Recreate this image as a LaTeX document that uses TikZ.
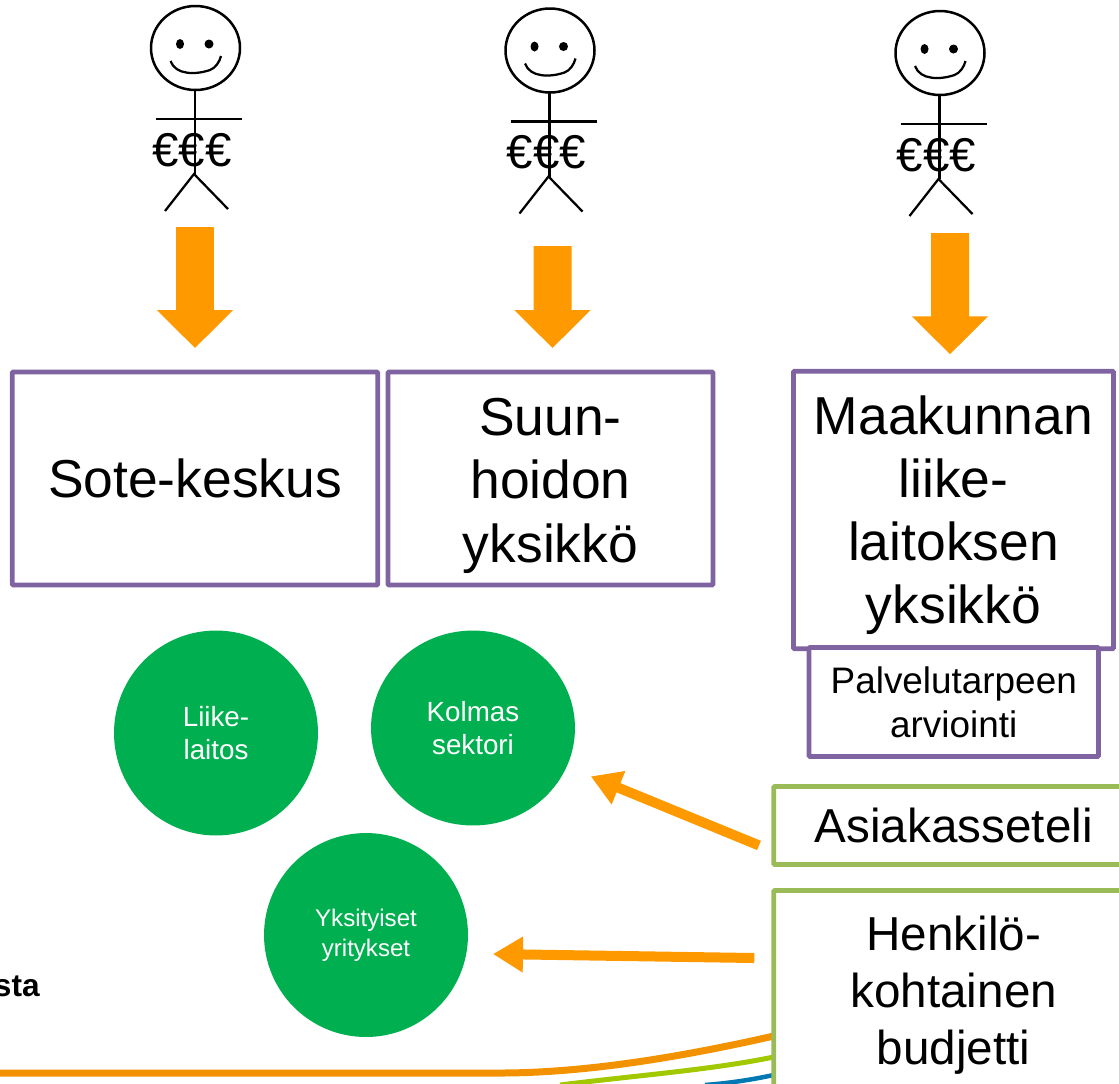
\documentclass[tikz,border=0pt]{standalone}
\usepackage{fontspec}
\setmainfont{Liberation Sans}
\usetikzlibrary{arrows.meta, shapes.geometric, backgrounds}

\definecolor{unitpurple}{HTML}{8064A2}
\definecolor{voucherlime}{HTML}{9BBB59}
\definecolor{providergreen}{HTML}{00B050}
\definecolor{arroworange}{HTML}{FF9900}
\definecolor{floworange}{HTML}{F39200}
\definecolor{flowlime}{HTML}{A2C800}
\definecolor{flowblue}{HTML}{0078B4}

\newcommand{\bigfont}{\fontsize{30.4}{36}\selectfont}
\newcommand{\midfont}{\fontsize{27.1}{32.6}\selectfont}

\tikzset{
    unitbox/.style={draw=unitpurple, line width=0.095cm, fill=white, rounded corners=0.5pt,
        inner sep=0pt, outer sep=0pt, align=center},
    voucherbox/.style={draw=voucherlime, line width=0.095cm, fill=white, rounded corners=0.5pt,
        inner sep=0pt, outer sep=0pt, align=center, font=\midfont},
    provider/.style={ellipse, fill=providergreen, text=white, inner sep=0pt, outer sep=0pt, align=center},
    bigarrow/.style={arroworange, line width=0.76cm, -{Triangle[length=0.76cm, width=1.48cm]}},
    thinarrow/.style={arroworange, line width=0.2cm, -{Triangle[length=0.6cm, width=0.68cm]}},
    stickman/.pic={
        \draw[line width=0.05cm] (0,0) ellipse [x radius=44.5, y radius=42];
        \fill (-15.5,-4) ellipse [x radius=4, y radius=5];
        \fill (13.5,-4) ellipse [x radius=4.5, y radius=4.5];
        \draw[line width=0.045cm] (-25,13) .. controls (-20,27) and (0,27) .. (14.5,22)
            .. controls (20,20) and (24,14) .. (25.5,8);
        \draw[line width=0.055cm] (-0.5,42) -- (-0.5,126);
        \draw[line width=0.045cm] (-39.5,71) -- (46.5,71);
        \draw[line width=0.045cm] (-30.5,163) -- (-1.5,126) -- (32.5,161);
        \node[inner sep=0pt, font=\fontsize{27}{27}\selectfont] (-euro) at (-3.5,102) {€€€};
    }
}

\begin{document}
\begin{tikzpicture}[x=0.02cm, y=-0.02cm]
    \useasboundingbox (0,0) rectangle (1119,1083);
    \clip (0,0) rectangle (1119,1083);

    % Stick figures
    \pic (man1) at (195.5,48) {stickman};
    \pic (man2) at (550,50.5) {stickman};
    \pic (man3) at (940,53) {stickman};

    % Units
    \node[unitbox, minimum width=7.31cm, minimum height=4.26cm, font=\bigfont] (sote) at (195,478.5) {Sote-keskus};
    \node[unitbox, minimum width=6.5cm, minimum height=4.26cm, font=\bigfont] (suun) at (550.5,478.5) {\rule{0pt}{29.5pt}Suun-\\hoidon\\yksikkö};
    \node[unitbox, minimum width=6.4cm, minimum height=5.55cm, font=\bigfont] (maakunta) at (953.5,510)
        {\rule{0pt}{28pt}Maakunnan\\liike-\\laitoksen\\yksikkö};
    \node[unitbox, minimum width=5.79cm, minimum height=2.18cm, font=\fontsize{21}{25.2}\selectfont] (arvio) at (953.75,702) {Palvelutarpeen\\arviointi};

    % Vouchers
    \node[voucherbox, minimum width=7.2cm, minimum height=1.56cm] (seteli) at (953.75,825.5) {Asiakasseteli};
    \node[voucherbox, minimum width=7.2cm, minimum height=4.18cm] (budjetti) at (953.75,995) {Henkilö-\\kohtainen\\budjetti};

    % Providers
    \node[provider, minimum width=4.08cm, minimum height=4.1cm, font=\fontsize{15.8}{19}\selectfont] (laitos) at (216,733) {Liike-\\laitos};
    \node[provider, minimum width=4.08cm, minimum height=3.9cm, font=\fontsize{15.8}{19}\selectfont] (kolmas) at (473,728) {Kolmas\\sektori};
    \node[provider, minimum width=4.08cm, minimum height=4.08cm, font=\fontsize{13.7}{17}\selectfont] (yritys) at (366,935) {Yksityiset\\yritykset};

    % Arrows down to the units
    \coordinate (top1) at (195,227);
    \coordinate (top2) at (552.5,246);
    \coordinate (top3) at (950,233);
    \draw[bigarrow] (top1) -- ([yshift=0.48cm]sote.north);
    \draw[bigarrow] (top2) -- ([xshift=0.04cm, yshift=0.48cm]suun.north);
    \draw[bigarrow] (top3) -- ([xshift=-0.07cm, yshift=0.34cm]maakunta.north);

    % Arrows from the vouchers
    \draw[thinarrow, shorten <=0.32cm, shorten >=0.52cm] ([yshift=0.26cm]seteli.south west) -- (kolmas);
    \draw[thinarrow] ([xshift=-0.39cm, yshift=0.74cm]budjetti.west) -- ([xshift=0.5cm, yshift=-0.38cm]yritys.east);

    \node[anchor=base east, inner sep=0pt, font=\fontsize{18}{20}\selectfont\bfseries] (sta) at (40,996) {sta};

    % Flow lines
    \coordinate (flow1) at (0,1073);
    \coordinate (flow2) at (560,1085);
    \coordinate (flow3) at (705,1085);
    \begin{scope}[on background layer]
        \draw[floworange, line width=0.14cm] (flow1) -- (500,1073) .. controls (590,1073) and (690,1055) .. ([yshift=-0.82cm]budjetti.west);
        \draw[flowlime, line width=0.1cm] (flow2) .. controls (640,1075) and (710,1070) .. ([yshift=-1.24cm]budjetti.west);
        \draw[flowblue, line width=0.09cm] (flow3) .. controls (730,1083) and (750,1080) .. ([yshift=-1.6cm]budjetti.west);
    \end{scope}
\end{tikzpicture}
\end{document}
